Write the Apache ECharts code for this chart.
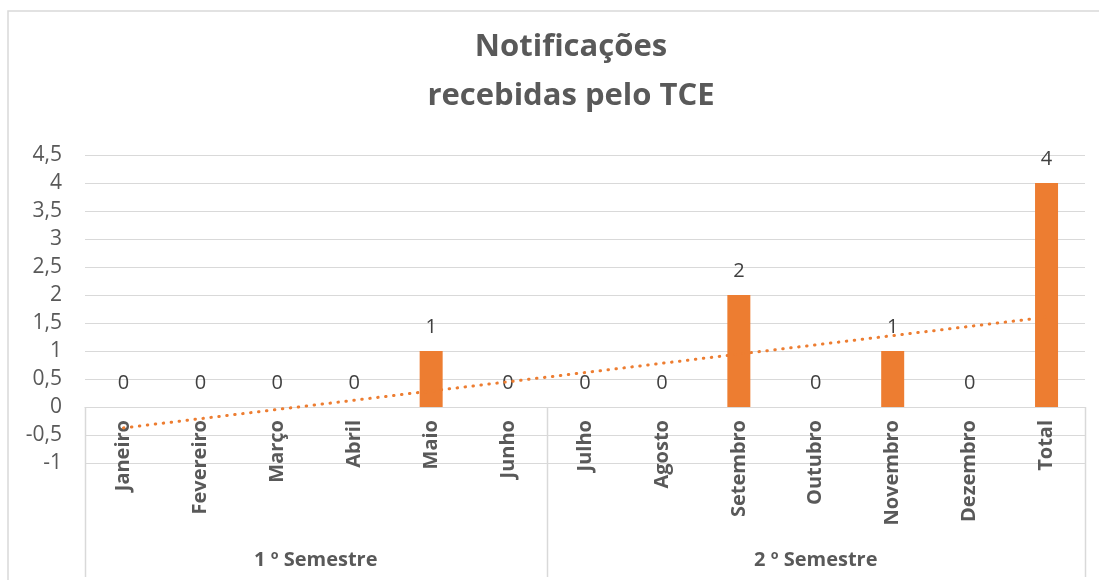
<!DOCTYPE html>
<html>
<head>
<meta charset="utf-8">
<script src="https://cdn.jsdelivr.net/npm/echarts@6/dist/echarts.min.js"></script>
<style>
  html, body { margin: 0; padding: 0; background: #fff; }
  #chart { width: 1099px; height: 580px; }
</style>
</head>
<body>
<div id="chart"></div>
<script>
const titleLines = ['Notificações', 'recebidas pelo TCE']
const months = ['Janeiro', 'Fevereiro', 'Março', 'Abril', 'Maio', 'Junho',
  'Julho', 'Agosto', 'Setembro', 'Outubro', 'Novembro', 'Dezembro', 'Total']
const notificacoes = [0, 0, 0, 0, 1, 0, 0, 0, 2, 0, 1, 0, 4]
const semestres = [
  { name: '1 º Semestre', from: 0, to: 5 },
  { name: '2 º Semestre', from: 6, to: 12 },
]

const orange = '#ED7D31'
const gridGray = '#d9d9d9'
const textGray = '#595959'
const font = '"Open Sans", Lato, sans-serif'

// linear trendline (least squares over the bars, like Excel)
function trend(vals) {
  const n = vals.length
  let sx = 0, sy = 0, sxy = 0, sxx = 0
  vals.forEach((y, i) => {
    const x = i + 1
    sx += x; sy += y; sxy += x * y; sxx += x * x
  })
  const b = (n * sxy - sx * sy) / (n * sxx - sx * sx)
  const a = (sy - b * sx) / n
  return vals.map((_, i) => +(a + b * (i + 1)).toFixed(4))
}

const chart = echarts.init(document.getElementById('chart'))

chart.setOption({
  animation: false,
  backgroundColor: '#fff',
  title: {
    text: titleLines.join('\n'),
    left: 566,
    top: 18,
    textAlign: 'center',
    textStyle: {
      fontFamily: font,
      fontWeight: 'bold',
      fontSize: 31,
      lineHeight: 49,
      color: textGray,
    },
  },
  grid: { left: 85, right: 14, top: 155, bottom: 117 },
  xAxis: {
    type: 'category',
    data: months,
    axisLine: { onZero: true, lineStyle: { color: gridGray, width: 1 } },
    axisTick: { show: false },
    axisLabel: {
      rotate: 90,
      interval: 0,
      margin: -43, // labels sit under the zero line, not under the grid
      fontFamily: font,
      fontWeight: 'bold',
      fontSize: 20,
      color: textGray,
    },
  },
  yAxis: {
    type: 'value',
    min: -1,
    max: 4.5,
    interval: 0.5,
    axisLine: { show: false },
    axisTick: { show: false },
    splitLine: { lineStyle: { color: gridGray, width: 1 } },
    axisLabel: {
      margin: 23,
      fontFamily: font,
      fontSize: 21,
      color: textGray,
      formatter: v => String(v).replace('.', ','),
    },
  },
  series: [
    {
      type: 'bar',
      data: notificacoes,
      barWidth: 23,
      itemStyle: { color: orange },
      label: {
        show: true,
        position: 'top',
        distance: 14,
        fontFamily: font,
        fontSize: 20,
        color: '#404040',
      },
      z: 2,
    },
    {
      type: 'line',
      data: trend(notificacoes),
      symbol: 'none',
      silent: true,
      lineStyle: { color: orange, width: 3, type: [0.5, 7.5], cap: 'round' },
      z: 3,
    },
  ],
})

// frame, group separators and semester labels below the axis
function drawExtras() {
  const p0 = chart.convertToPixel({ xAxisIndex: 0 }, 0)
  const p1 = chart.convertToPixel({ xAxisIndex: 0 }, 1)
  const band = p1 - p0
  const yZero = chart.convertToPixel({ yAxisIndex: 0 }, 0)
  const bottom = 577
  const edge = i => p0 + (i - 0.5) * band

  const graphic = [
    {
      type: 'rect',
      shape: { x: 8, y: 11, width: 1100, height: 580 },
      style: { fill: 'none', stroke: gridGray, lineWidth: 1.5 },
      silent: true,
    },
  ]
  const cuts = [0]
  semestres.forEach(s => cuts.push(s.to + 1))
  cuts.forEach(i => {
    const x = Math.round(edge(i)) + 0.5
    graphic.push({
      type: 'line',
      shape: { x1: x, y1: yZero, x2: x, y2: bottom },
      style: { stroke: gridGray, lineWidth: 1.5 },
      silent: true,
    })
  })
  semestres.forEach(s => {
    graphic.push({
      type: 'text',
      x: (edge(s.from) + edge(s.to + 1)) / 2,
      y: 560,
      style: {
        text: s.name,
        align: 'center',
        verticalAlign: 'middle',
        fontFamily: font,
        fontWeight: 'bold',
        fontSize: 20,
        fill: textGray,
      },
      silent: true,
    })
  })
  chart.setOption({ graphic })
}
drawExtras()
</script>
</body>
</html>
